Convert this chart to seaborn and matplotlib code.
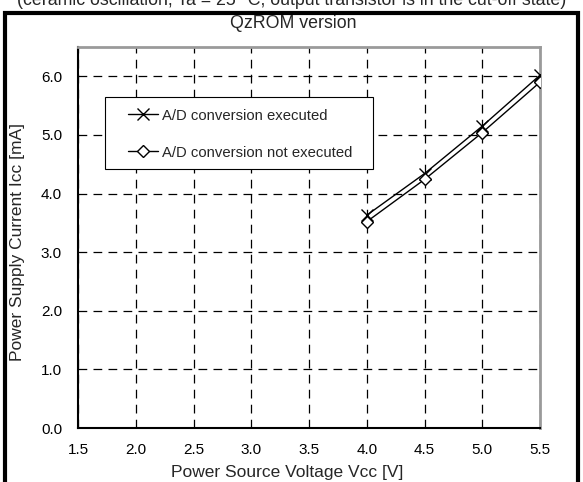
import matplotlib
matplotlib.use("Agg")
import matplotlib.pyplot as plt
import seaborn as sns
import pandas as pd
from matplotlib.patches import Rectangle
from matplotlib.lines import Line2D

# Supply current vs. supply voltage (QzROM version)
voltage = [4.0, 4.5, 5.0, 5.5]
icc_ad_on = [3.63, 4.34, 5.15, 6.02]
icc_ad_off = [3.52, 4.24, 5.04, 5.90]
series_names = ["A/D conversion executed", "A/D conversion not executed"]
x_ticks = [1.5, 2.0, 2.5, 3.0, 3.5, 4.0, 4.5, 5.0, 5.5]
y_ticks = [0.0, 1.0, 2.0, 3.0, 4.0, 5.0, 6.0]

sns.set_theme(style="white")
plt.rcParams["font.family"] = ["Liberation Sans", "DejaVu Sans"]

df_on = pd.DataFrame({"Vcc": voltage, "Icc": icc_ad_on})
df_off = pd.DataFrame({"Vcc": voltage, "Icc": icc_ad_off})

W, H = 583, 482
fig = plt.figure(figsize=(W / 100, H / 100), dpi=100)
ax = fig.add_axes([78 / W, 1 - 428 / H, (540 - 78) / W, (428 - 47) / H])

sns.lineplot(data=df_on, x="Vcc", y="Icc", color="black", linewidth=1.0,
             marker="x", markersize=9, markeredgecolor="black",
             markeredgewidth=1.0, ax=ax, zorder=3)
sns.lineplot(data=df_off, x="Vcc", y="Icc", color="black", linewidth=1.0,
             marker="D", markersize=6, markerfacecolor="white",
             markeredgecolor="black", markeredgewidth=1.0, ax=ax, zorder=3)

ax.set_xlim(1.5, 5.5)
ax.set_ylim(0.0, 6.5)
ax.set_xticks(x_ticks)
ax.set_yticks(y_ticks)
ax.set_xticklabels([f"{v:.1f}" for v in x_ticks], fontsize=11)
ax.set_yticklabels([f"{v:.1f}" for v in y_ticks], fontsize=11)
ax.tick_params(axis="x", length=0, pad=11, colors="black")
ax.tick_params(axis="y", length=0, pad=11.5, colors="black")
ax.set_xlabel("")
ax.set_ylabel("")

ax.grid(True, color="black", linestyle=(0, (7, 5)), linewidth=0.9)
ax.set_axisbelow(True)

for side in ("left", "bottom"):
    ax.spines[side].set_color("black")
    ax.spines[side].set_linewidth(1.5)
for side in ("top", "right"):
    ax.spines[side].set_color("#9a9a9a")
    ax.spines[side].set_linewidth(2.0)

# legend: boxed panel with the two entries inside
ax.add_patch(Rectangle((105 / W, 1 - 169 / H), (373 - 105) / W, (169 - 97) / H,
                       transform=fig.transFigure, facecolor="white",
                       edgecolor="black", linewidth=0.8, zorder=2.5,
                       clip_on=False))
handles = [
    Line2D([], [], color="black", lw=1.0, marker="x", markersize=9,
           markeredgecolor="black"),
    Line2D([], [], color="black", lw=1.0, marker="D", markersize=6,
           markerfacecolor="white", markeredgecolor="black"),
]
leg = ax.legend(
    handles, series_names, loc="upper left",
    bbox_to_anchor=(128 / W, 1 - 108.5 / H), bbox_transform=fig.transFigure,
    fontsize=10.7, frameon=False, borderpad=0, labelspacing=1.55,
    handlelength=2.0, handletextpad=0.27, borderaxespad=0,
)
leg.set_zorder(4)

# outer frame
fig.patches.append(Rectangle((5 / W, -0.05), (578 - 5) / W, 1 - 12.5 / H + 0.05,
                             transform=fig.transFigure, fill=False,
                             edgecolor="black", linewidth=3))

fig.text(0.5, 1 - 5 / H, "(ceramic oscillation, Ta = 25 °C, output transistor is in the cut-off state)",
         ha="center", va="baseline", fontsize=12.8)
fig.text(293 / W, 1 - 23.5 / H, "QzROM version", ha="center", va="center", fontsize=12.8)
fig.text(287 / W, 1 - 473 / H, "Power Source Voltage Vcc [V]", ha="center", va="center", fontsize=12.5)
fig.text(18 / W, 1 - 242 / H, "Power Supply Current Icc [mA]", ha="center", va="center",
         rotation=90, fontsize=12.5)

fig.savefig("out.png", dpi=100)
